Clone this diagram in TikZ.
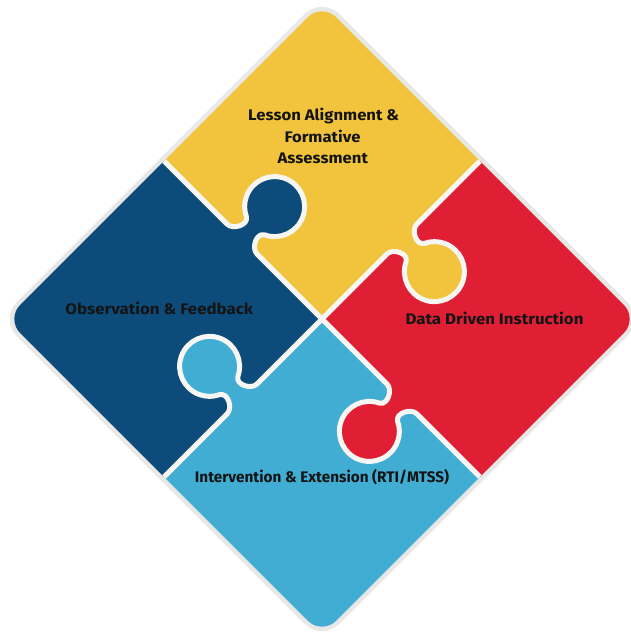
\documentclass[tikz,border=0pt]{standalone}
\usepackage{fontspec}
\setmainfont{Fira Sans}
\definecolor{yellowc}{HTML}{F2C43D}
\definecolor{redc}{HTML}{E01F35}
\definecolor{bluec}{HTML}{41ADD3}
\definecolor{navyc}{HTML}{0D4C7A}
\definecolor{rimc}{HTML}{E8E8E6}
\definecolor{seamc}{HTML}{F7F6F3}
\definecolor{ink}{HTML}{141414}
\newcommand\wide[2]{\scalebox{#1}[1]{#2}}
\begin{document}
\begin{tikzpicture}[x=1pt,y=1pt,
  lbl/.style={font=\fontsize{15.3}{18}\selectfont\bfseries, text=ink, anchor=base, inner sep=0pt},
  seam/.style={draw=seamc, line width=5pt, line join=round}]
\useasboundingbox (0,0) rectangle (631,632);
\coordinate (C) at (322,313);
\def\L{223.4}
% one quarter piece in its own frame: tab along the x axis, blank along the y axis
\def\piecepath{(0,0) -- (92,0) .. controls (100,0) and (107.6,-14.4) .. (100.3,-18.8)
  arc[start angle=-245,end angle=65,radius=30pt]
  .. controls (118.4,-14.4) and (126,0) .. (134,0) -- (\L,0) -- (400,0) -- (400,400)
  -- (0,400) -- (0,\L) -- (0,134) .. controls (0,126) and (14.4,118.4) .. (18.8,125.7)
  arc[start angle=155,end angle=-155,radius=30pt]
  .. controls (14.4,107.6) and (0,100) .. (0,92) -- cycle}
% the seam between two neighbouring pieces
\def\seampath{(0,0) -- (92,0) .. controls (100,0) and (107.6,-14.4) .. (100.3,-18.8)
  arc[start angle=-245,end angle=65,radius=30pt]
  .. controls (118.4,-14.4) and (126,0) .. (134,0) -- (\L,0)}
\begin{scope}[shift={(C)},rotate=45]
  \draw[line width=9pt, draw=rimc, rounded corners=20pt] (-\L,-\L) rectangle (\L,\L);
  \begin{scope}
    \clip[rounded corners=20pt] (-\L,-\L) rectangle (\L,\L);
    \fill[yellowc] \piecepath;
    \begin{scope}[rotate=-90]\fill[redc] \piecepath;\end{scope}
    \begin{scope}[rotate=-180]\fill[bluec] \piecepath;\end{scope}
    \begin{scope}[rotate=-270]\fill[navyc] \piecepath;\end{scope}
    \path[seam] \seampath;
    \begin{scope}[rotate=-90]\path[seam] \seampath;\end{scope}
    \begin{scope}[rotate=-180]\path[seam] \seampath;\end{scope}
    \begin{scope}[rotate=-270]\path[seam] \seampath;\end{scope}
  \end{scope}
\end{scope}
% labels
\node[lbl] (la) at (323.7,511.3) {\wide{1.09}{Lesson Alignment \&}};
\node[lbl] (lb) at (322.5,489.3) {\wide{1.09}{Formative}};
\node[lbl] (lc) at (322.8,468.7) {\wide{1.09}{Assessment}};
\node[lbl] (obs) at (159.3,317) {\wide{1.1}{Observation \& Feedback}};
\node[lbl] (ddi) at (494.5,307.7) {\wide{1.1}{Data Driven Instruction}};
\node[lbl] (int) at (322,149.7) {Intervention \& Extension (RTI/MTSS)};
\end{tikzpicture}
\end{document}
